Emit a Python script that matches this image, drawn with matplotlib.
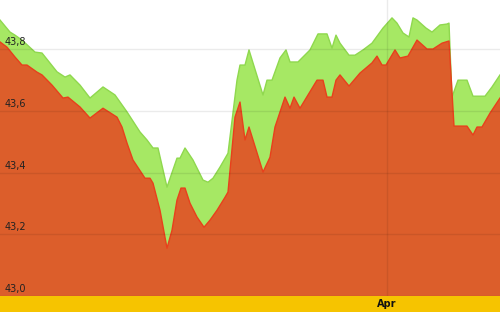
import matplotlib
matplotlib.use("Agg")
import matplotlib.pyplot as plt
import matplotlib.transforms as mtransforms

# upper band (green), day index vs value
upper_day = [0, 2, 3, 4.4, 7, 8.4, 11.4, 13, 14, 16, 18, 20.6, 23, 25.4, 28, 29.4,
             30.6, 31.6, 33.4, 35.4, 36, 37, 38.6, 40.6, 41.6, 42.6, 44, 45.6, 47.4,
             48, 49, 49.8, 50.6, 52.6, 53.4, 54.4, 56, 57.2, 58, 59.6, 62, 63.6, 65.4,
             66.4, 67.2, 68, 69.8, 71, 72.6, 74.4, 76.6, 78.4, 79.4, 80.6, 81.8, 82.6,
             83.4, 85.2, 86.4, 88, 89.4, 89.8, 90.4, 91.6, 93.4, 94.6, 97, 98.4, 100]
upper_val = [43.895, 43.856, 43.846, 43.830, 43.791, 43.788, 43.727, 43.710, 43.717,
             43.684, 43.642, 43.678, 43.652, 43.597, 43.532, 43.506, 43.480, 43.480,
             43.353, 43.447, 43.447, 43.480, 43.441, 43.376, 43.369, 43.382, 43.418,
             43.463, 43.700, 43.749, 43.749, 43.798, 43.756, 43.652, 43.700, 43.700,
             43.772, 43.798, 43.759, 43.759, 43.798, 43.850, 43.850, 43.804, 43.846,
             43.820, 43.781, 43.781, 43.798, 43.820, 43.869, 43.902, 43.885, 43.853,
             43.840, 43.902, 43.895, 43.869, 43.856, 43.879, 43.882, 43.885, 43.645,
             43.700, 43.700, 43.648, 43.648, 43.678, 43.717]

# lower band (orange)
lower_day = [0, 1.4, 3, 4.4, 5.4, 7.4, 8.4, 10.4, 12.6, 13.6, 16, 18, 20.6, 23.4, 24.4,
             25.4, 26.6, 29, 30, 30.6, 32, 33.4, 34.4, 35.4, 36.2, 37, 38, 39.4, 40.8,
             42, 43.4, 45, 45.6, 47, 48, 49, 49.8, 52.6, 54, 55, 57, 58, 58.8, 60, 63.4,
             64.6, 65.4, 66.4, 67.2, 68, 69.8, 72, 74.4, 75.4, 76.4, 77.2, 79, 80, 81.6,
             83.4, 85.4, 86.6, 88.4, 89.8, 90.8, 93.4, 94.6, 95.4, 96.4, 98, 100]
lower_val = [43.824, 43.807, 43.775, 43.749, 43.749, 43.726, 43.717, 43.684, 43.642,
             43.645, 43.613, 43.577, 43.609, 43.580, 43.548, 43.496, 43.441, 43.382,
             43.382, 43.366, 43.278, 43.155, 43.213, 43.311, 43.350, 43.350, 43.301,
             43.256, 43.223, 43.246, 43.278, 43.320, 43.337, 43.580, 43.629, 43.506,
             43.548, 43.402, 43.450, 43.548, 43.645, 43.609, 43.645, 43.609, 43.700,
             43.700, 43.645, 43.645, 43.700, 43.717, 43.681, 43.723, 43.756, 43.778,
             43.749, 43.749, 43.798, 43.772, 43.778, 43.830, 43.801, 43.801, 43.820,
             43.827, 43.551, 43.551, 43.522, 43.548, 43.548, 43.593, 43.642]

y_ticks = [43.0, 43.2, 43.4, 43.6, 43.8]
x_tick_day = [77.4]
x_tick_labels = ["Apr"]

fig = plt.figure(figsize=(5, 3.12), dpi=100)
bar_h = 16 / 312
ax = fig.add_axes([0, bar_h, 1, 1 - bar_h])
bar = fig.add_axes([0, 0, 1, bar_h], sharex=ax)

ax.fill_between(upper_day, 43.0, upper_val, color="#a6e864", lw=0, zorder=1)
ax.plot(upper_day, upper_val, color="#8fd84e", lw=1, zorder=2)
ax.fill_between(lower_day, 43.0, lower_val, color="#dc5e2b", lw=0, zorder=3)
ax.plot(lower_day, lower_val, color="#e8401c", lw=1, zorder=4)

ax.set_xlim(0, 100)
ax.set_ylim(43.0, 43.96)
for v in y_ticks:
    ax.axhline(v, color="black", alpha=0.08, lw=1, zorder=5)
    ax.text(1, v + 0.006, f"{v:.1f}".replace(".", ","), fontsize=7,
            color="#222222", va="bottom", ha="left", zorder=6)
for d in x_tick_day:
    ax.axvline(d, color="black", alpha=0.08, lw=1, zorder=5)
ax.set_xticks([])
ax.set_yticks([])
for s in ax.spines.values():
    s.set_visible(False)

bar.set_facecolor("#f6c400")
bar.set_xticks([])
bar.set_yticks([])
trans = mtransforms.blended_transform_factory(bar.transData, bar.transAxes)
for d, lab in zip(x_tick_day, x_tick_labels):
    bar.text(d, 0.5, lab, transform=trans, fontsize=7, fontweight="bold",
             ha="center", va="center", color="#111111")
for s in bar.spines.values():
    s.set_visible(False)

fig.savefig("out.png", dpi=100)
